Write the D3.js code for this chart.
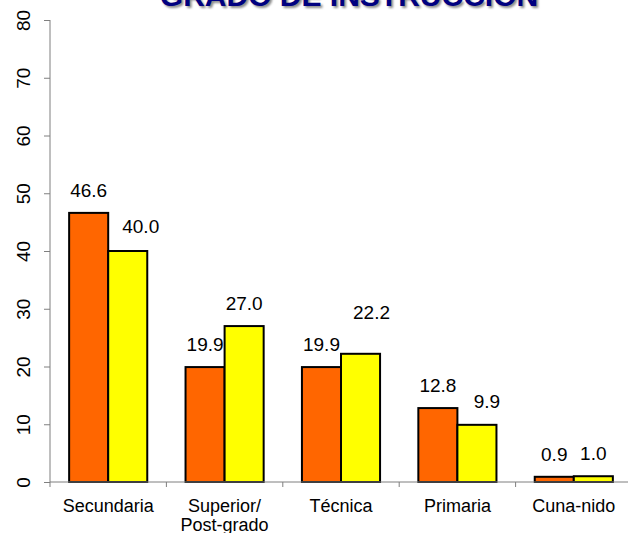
<!DOCTYPE html>
<html><head><meta charset="utf-8">
<script src="https://cdn.jsdelivr.net/npm/d3@7"></script>
<style>html,body{margin:0;padding:0;background:#fff;}svg{display:block;font-family:"Liberation Sans",Arial,sans-serif;}</style>
</head><body>
<svg id="c" width="628" height="533"></svg>
<script>
const title = "GRADO DE INSTRUCCIÓN";
const categories = [["Secundaria"], ["Superior/", "Post-grado"], ["Técnica"], ["Primaria"], ["Cuna-nido"]];
const seriesA = [46.6, 19.9, 19.9, 12.8, 0.9];
const seriesB = [40.0, 27.0, 22.2, 9.9, 1.0];
const yTicks = [0, 10, 20, 30, 40, 50, 60, 70, 80];

(function(){
const svg = d3.select("#c");
const defs = svg.append("defs");
defs.append("filter").attr("id","blur").append("feGaussianBlur").attr("stdDeviation",1.2);

const mLeft = 50, mRight = 632, mTop = 20, mBottom = 482;
const keys = categories.map(c => c.join(" "));
const x0 = d3.scaleBand().domain(keys).range([mLeft, mRight]).padding(0);
const x1 = d3.scaleBand().domain(["a","b"]).range([0, x0.bandwidth()]).paddingInner(0).paddingOuter(0.49);
const y = d3.scaleLinear().domain([0, 80]).range([mBottom, mTop]);

// title with shadow
const tg = svg.append("g");
tg.append("text").attr("x", 351).attr("y", 8).attr("text-anchor","middle")
  .attr("font-size", 30).attr("font-weight","bold").attr("fill","#8a8a8a")
  .attr("filter","url(#blur)").text(title);
tg.append("text").attr("x", 349).attr("y", 6).attr("text-anchor","middle")
  .attr("font-size", 30).attr("font-weight","bold").attr("fill","#000080").text(title);

const colors = {a:"#FF6600", b:"#FFFF00"};
const data = keys.map((k,i) => ({k, a: seriesA[i], b: seriesB[i]}));

// bars
const g = svg.append("g");
data.forEach(d => {
  ["a","b"].forEach(s => {
    g.append("rect")
      .attr("x", x0(d.k) + x1(s))
      .attr("y", y(d[s]))
      .attr("width", x1.bandwidth())
      .attr("height", mBottom - y(d[s]))
      .attr("fill", colors[s]).attr("stroke","#000").attr("stroke-width",2);
  });
});

// axes
const axCol = "#7f7f7f";
const yAxis = svg.append("g").attr("transform",`translate(${mLeft},0)`)
  .call(d3.axisLeft(y).tickValues(yTicks).tickSize(6).tickFormat(d3.format("d")));
yAxis.select(".domain").attr("stroke", axCol).attr("d", `M0,${mTop}V${mBottom}`);
yAxis.selectAll(".tick line").attr("stroke", axCol);
yAxis.selectAll(".tick text").attr("font-size", 19).attr("fill","#000")
  .attr("font-family","'Liberation Sans',Arial,sans-serif")
  .attr("transform","rotate(-90)").attr("x",0).attr("y",-20).attr("dy","0")
  .attr("text-anchor","middle");

const xAxis = svg.append("g");
xAxis.append("line").attr("x1", mLeft).attr("x2", 628).attr("y1", mBottom).attr("y2", mBottom).attr("stroke", axCol);
const bounds = keys.map(k => x0(k)).concat([mRight]);
xAxis.selectAll("line.t").data(bounds.filter(b => b < 628)).join("line").attr("class","t")
  .attr("x1", d => d).attr("x2", d => d).attr("y1", mBottom).attr("y2", mBottom + 5).attr("stroke", axCol);

// category labels
categories.forEach((lines, i) => {
  const cx = x0(keys[i]) + x0.bandwidth()/2;
  const t = svg.append("text").attr("x", cx).attr("y", 512)
    .attr("text-anchor","middle").attr("font-size", 18).attr("fill","#000");
  lines.forEach((ln, j) => t.append("tspan").attr("x", cx).attr("dy", j ? 19 : 0).text(ln));
});

// value labels (a few nudged as in the source)
const nudge = {"b0":[13,-2], "b2":[11,-19], "b3":[10,-1]};
data.forEach((d,i) => {
  ["a","b"].forEach(s => {
    const n = nudge[s+i] || [0,0];
    svg.append("text")
      .attr("x", x0(d.k) + x1(s) + x1.bandwidth()/2 + n[0])
      .attr("y", y(d[s]) - 16 + n[1])
      .attr("text-anchor","middle").attr("font-size", 19).attr("fill","#000")
      .text(d[s].toFixed(1));
  });
});
})();
</script>
</body></html>
